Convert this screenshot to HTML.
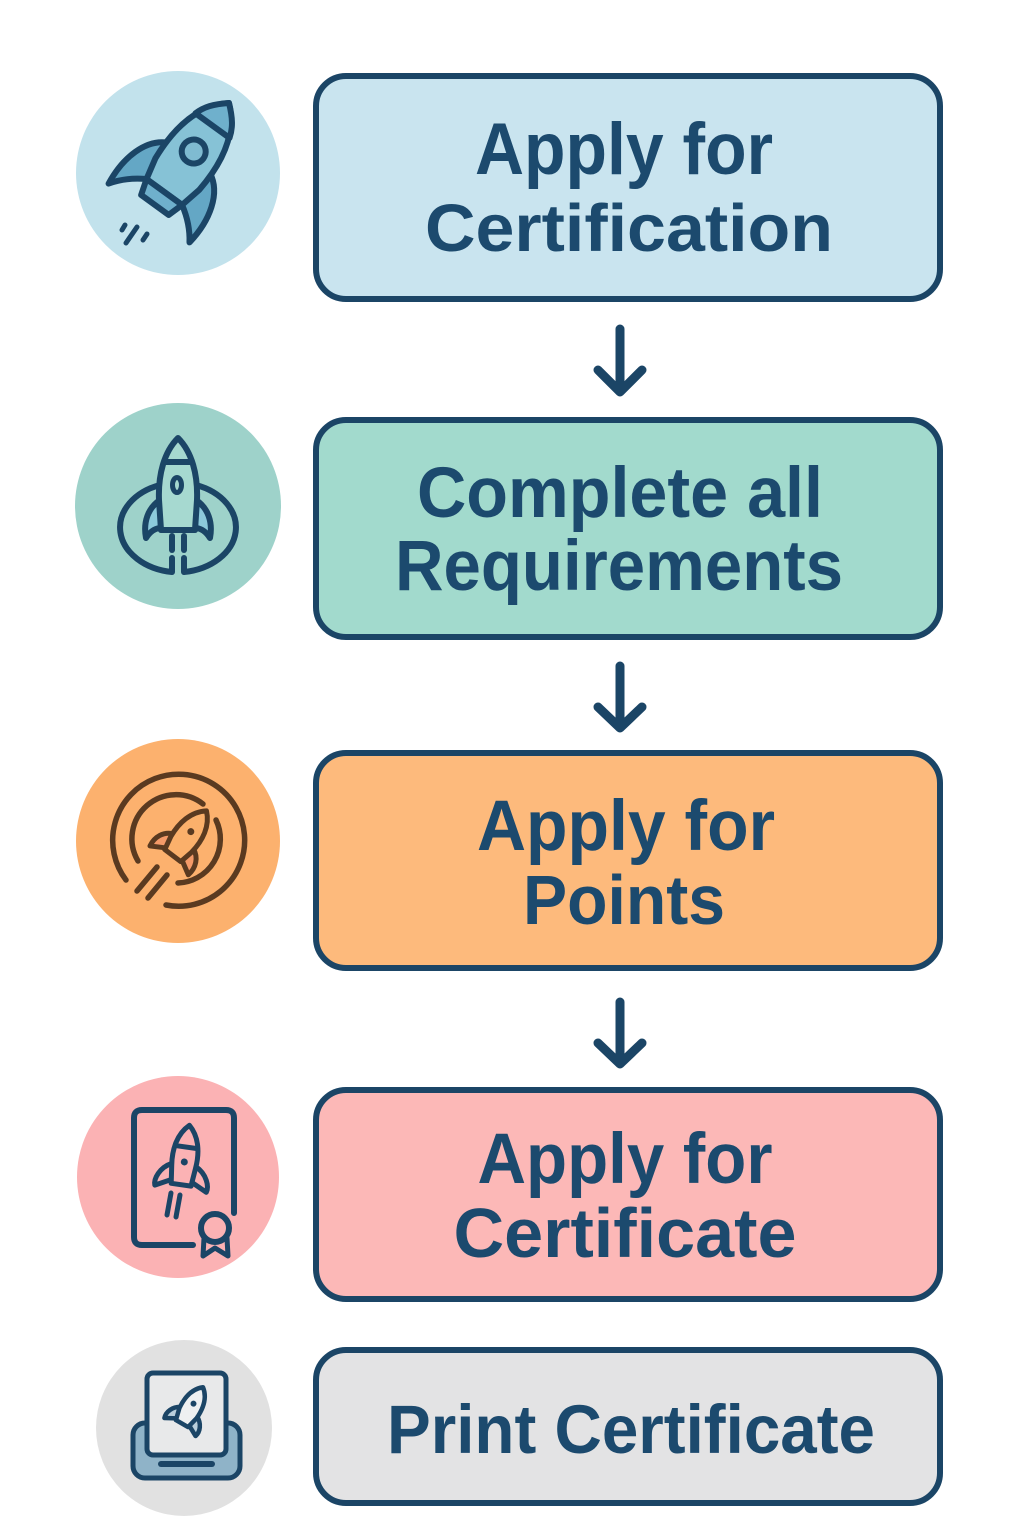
<!DOCTYPE html>
<html>
<head>
<meta charset="utf-8">
<style>
  html,body{margin:0;padding:0;background:#ffffff;}
  body{width:1024px;height:1536px;overflow:hidden;}
  svg{display:block;}
  .t{font-family:"Liberation Sans","DejaVu Sans",sans-serif;font-weight:bold;fill:#1c4a6e;}
</style>
</head>
<body>
<svg width="1024" height="1536" viewBox="0 0 1024 1536" xmlns="http://www.w3.org/2000/svg">
  <rect x="0" y="0" width="1024" height="1536" fill="#ffffff"/>

  <!-- ============ BOXES ============ -->
  <g stroke="#1b4566" stroke-width="6">
    <rect x="316" y="76" width="624" height="223" rx="30" fill="#c9e4ef"/>
    <rect x="316" y="420" width="624" height="217" rx="30" fill="#a2dacd"/>
    <rect x="316" y="753" width="624" height="215" rx="30" fill="#fdba7c"/>
    <rect x="316" y="1090" width="624" height="209" rx="30" fill="#fcb8b7"/>
    <rect x="316" y="1350" width="624" height="153" rx="30" fill="#e3e3e4"/>
  </g>

  <!-- ============ TEXT ============ -->
  <text class="t" x="624" y="174" font-size="73" text-anchor="middle" textLength="298" lengthAdjust="spacingAndGlyphs">Apply for</text>
  <text class="t" x="629" y="251" font-size="67" text-anchor="middle" textLength="408" lengthAdjust="spacingAndGlyphs">Certification</text>

  <text class="t" x="620" y="517" font-size="71" text-anchor="middle" textLength="406" lengthAdjust="spacingAndGlyphs">Complete all</text>
  <text class="t" x="619" y="590" font-size="71" text-anchor="middle" textLength="448" lengthAdjust="spacingAndGlyphs">Requirements</text>

  <text class="t" x="626" y="850" font-size="71" text-anchor="middle" textLength="298" lengthAdjust="spacingAndGlyphs">Apply for</text>
  <text class="t" x="624" y="924" font-size="70" text-anchor="middle" textLength="202" lengthAdjust="spacingAndGlyphs">Points</text>

  <text class="t" x="625" y="1183" font-size="71" text-anchor="middle" textLength="295" lengthAdjust="spacingAndGlyphs">Apply for</text>
  <text class="t" x="625" y="1257" font-size="70" text-anchor="middle" textLength="343" lengthAdjust="spacingAndGlyphs">Certificate</text>

  <text class="t" x="631" y="1453" font-size="69" text-anchor="middle" textLength="488" lengthAdjust="spacingAndGlyphs">Print Certificate</text>

  <!-- ============ ARROWS ============ -->
  <g stroke="#1b4566" stroke-width="9" stroke-linecap="round" stroke-linejoin="round" fill="none">
    <path d="M620,329 L620,392 M598,370 L620,392 L642,370"/>
    <path d="M620,666 L620,728 M598,707 L620,728 L642,707"/>
    <path d="M620,1002 L620,1064 M598,1043 L620,1064 L642,1043"/>
  </g>

  <!-- ============ CIRCLE 1 : diagonal rocket ============ -->
  <circle cx="178" cy="173" r="102" fill="#c2e2ec"/>
  <g transform="translate(189,158) rotate(36)" stroke="#1b4566" stroke-width="6" stroke-linejoin="round">
    <path d="M-26,0 C-46,10 -54,38 -50,68 C-42,56 -32,48 -22,42 Z" fill="#64a7c5"/>
    <path d="M26,0 C46,10 54,38 50,68 C42,56 32,48 22,42 Z" fill="#64a7c5"/>
    <path d="M0,-68 C24,-48 30,-15 27,20 L22,42 L-22,42 L-27,20 C-30,-15 -24,-48 0,-68 Z" fill="#86c2d6"/>
    <path d="M0,-68 C12,-58 18,-50 21,-40 L-21,-40 C-18,-50 -12,-58 0,-68 Z" fill="#6fb0cc"/>
    <path d="M-22,42 L22,42 L17,58 L-17,58 Z" fill="#6fb0cc"/>
    <circle cx="0" cy="-8" r="12" fill="#7fbbd1"/>
  </g>
  <g stroke="#1b4566" stroke-width="5" stroke-linecap="round">
    <line x1="122" y1="230" x2="125" y2="225"/>
    <line x1="126" y1="243" x2="137" y2="227"/>
    <line x1="143" y1="240" x2="147" y2="234"/>
  </g>

  <!-- ============ CIRCLE 2 : rocket with ring ============ -->
  <circle cx="178" cy="506" r="103" fill="#9ed2ca"/>
  <g stroke="#1b4566" stroke-width="6" stroke-linecap="round" stroke-linejoin="round" fill="none">
    <path d="M160,485 A60,45 0 0 0 172,572 L172,558"/>
    <path d="M196,485 A60,45 0 0 1 184,572 L184,558"/>
    <line x1="172" y1="536" x2="172" y2="550"/>
    <line x1="184" y1="536" x2="184" y2="550"/>
  </g>
  <g stroke="#1b4566" stroke-width="6" stroke-linejoin="round">
    <path d="M160,500 C148,508 143,522 146,538 C151,530 157,528 161,528 Z" fill="#8ccadb"/>
    <path d="M196,500 C208,508 213,522 210,538 C205,530 199,528 195,528 Z" fill="#8ccadb"/>
    <path d="M178,438 C192,452 198,475 197,500 L195,530 L161,530 L159,500 C158,475 164,452 178,438 Z" fill="#a6d9d0"/>
    <line x1="166" y1="462" x2="190" y2="462"/>
    <ellipse cx="177" cy="485" rx="4.5" ry="7.5" fill="#a6d9d0" stroke-width="5"/>
  </g>

  <!-- ============ CIRCLE 3 : rocket with orbits ============ -->
  <circle cx="178" cy="841" r="102" fill="#fcb16e"/>
  <g stroke="#5a3a20" stroke-width="5.5" stroke-linecap="round" fill="none">
    <path d="M126,880 A66,66 0 1 1 166,905"/>
    <path d="M138,861 A44,44 0 0 1 203,804"/>
    <path d="M216,820 A44,44 0 0 1 178,883"/>
    <line x1="137" y1="891" x2="157" y2="867"/>
    <line x1="148" y1="898" x2="167" y2="875"/>
  </g>
  <g transform="translate(186,838) rotate(37)" stroke="#5a3a20" stroke-width="5" stroke-linejoin="round">
    <path d="M-12,4 C-22,8 -26,18 -24,28 L-10,20 Z" fill="#f49a68"/>
    <path d="M12,4 C22,8 26,18 24,28 L10,20 Z" fill="#f49a68"/>
    <path d="M0,-34 C12,-24 15,-8 13,8 L10,22 L-10,22 L-13,8 C-15,-8 -12,-24 0,-34 Z" fill="#fbb06b"/>
    <circle cx="0" cy="-8" r="3.5" fill="#5a3a20" stroke="none"/>
  </g>

  <!-- ============ CIRCLE 4 : certificate ============ -->
  <circle cx="178" cy="1177" r="101" fill="#fbb2b4"/>
  <g stroke="#1b4566" stroke-width="6" stroke-linecap="round" stroke-linejoin="round" fill="none">
    <path d="M193,1245 L142,1245 Q134,1245 134,1237 L134,1118 Q134,1110 142,1110 L226,1110 Q234,1110 234,1118 L234,1213"/>
  </g>
  <g stroke="#1b4566" stroke-width="5" stroke-linejoin="round">
    <path d="M204,1238 L203,1256 L215,1248 L228,1256 L227,1238 Z" fill="#fbb2b4"/>
    <circle cx="215" cy="1228" r="14" fill="#fbb2b4" stroke-width="6"/>
  </g>
  <g transform="translate(185,1157) rotate(8)" stroke="#1b4566" stroke-width="5" stroke-linejoin="round">
    <path d="M-12,8 C-24,14 -28,26 -26,32 L-10,24 Z" fill="#fbb2b4"/>
    <path d="M12,8 C24,14 28,26 26,32 L10,24 Z" fill="#fbb2b4"/>
    <path d="M0,-32 C11,-22 14,-6 12,10 L10,28 L-10,28 L-12,10 C-14,-6 -11,-22 0,-32 Z" fill="#fbb2b4"/>
    <line x1="-11" y1="-10" x2="11" y2="-10"/>
    <circle cx="0" cy="5" r="3.5" fill="#1b4566" stroke="none"/>
  </g>
  <g stroke="#1b4566" stroke-width="5" stroke-linecap="round">
    <line x1="167" y1="1215" x2="171" y2="1193"/>
    <line x1="176" y1="1217" x2="180" y2="1195"/>
  </g>

  <!-- ============ CIRCLE 5 : printer ============ -->
  <circle cx="184" cy="1428" r="88" fill="#e1e1e1"/>
  <g stroke="#1b4566" stroke-width="5" stroke-linejoin="round">
    <rect x="133" y="1423" width="107" height="55" rx="12" fill="#8fb3c8"/>
    <rect x="147" y="1373" width="79" height="82" rx="6" fill="#e8e9ea"/>
    <line x1="161" y1="1464" x2="212" y2="1464" stroke-width="6" stroke-linecap="round"/>
  </g>
  <g transform="translate(191,1408) rotate(30)" stroke="#1b4566" stroke-width="4.5" stroke-linejoin="round">
    <path d="M-9,4 C-17,8 -20,16 -18,22 L-7,16 Z" fill="#b9cfdc"/>
    <path d="M9,4 C17,8 20,16 18,22 L7,16 Z" fill="#b9cfdc"/>
    <path d="M0,-24 C9,-17 11,-6 10,6 L7,18 L-7,18 L-10,6 C-11,-6 -9,-17 0,-24 Z" fill="#eef0f1"/>
    <circle cx="0" cy="-5" r="3" fill="#1b4566" stroke="none"/>
  </g>
</svg>
</body>
</html>
